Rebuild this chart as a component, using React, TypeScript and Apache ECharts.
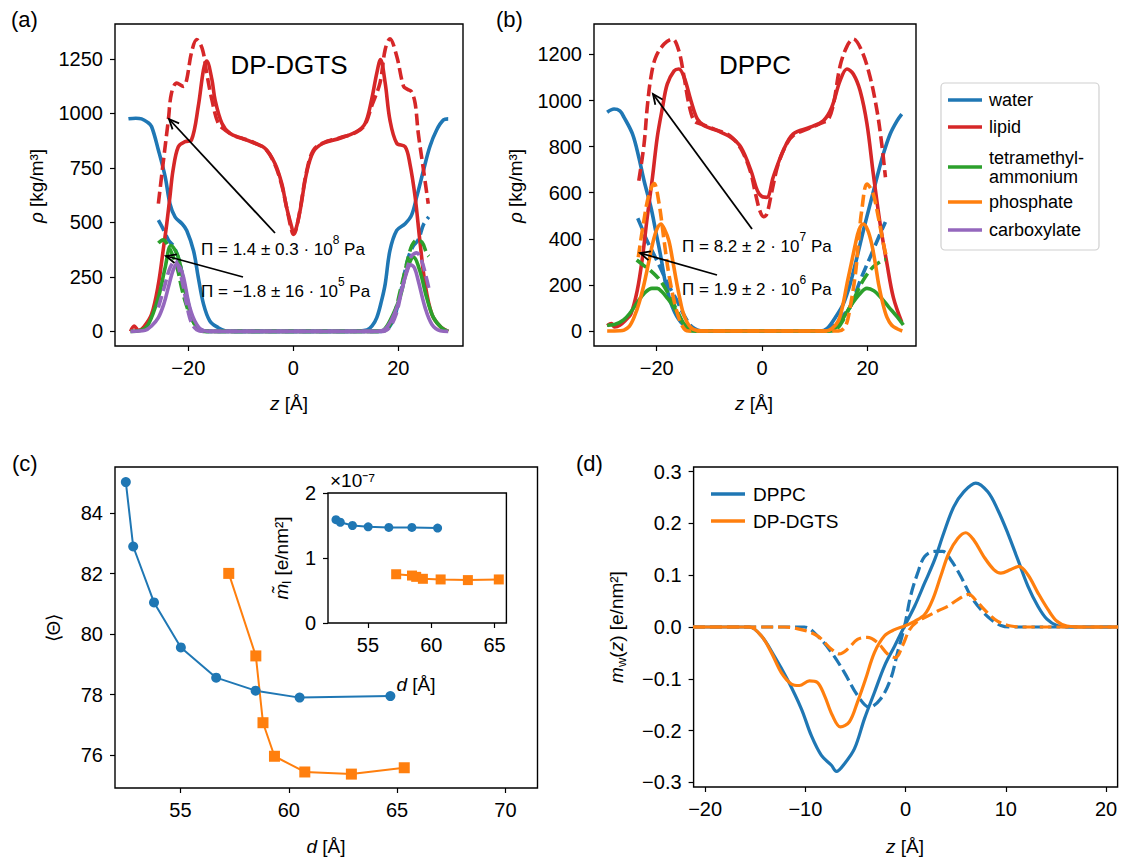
import React, { useEffect, useRef } from "react";
import * as echarts from "echarts";

const FONT = '"Liberation Sans", Arial, Helvetica, sans-serif';
const COL = { blue: "#1f77b4", orange: "#ff7f0e", green: "#2ca02c", red: "#d62728", purple: "#9467bd" };

// ---------- (a) DP-DGTS density profiles [z (Å), ρ (kg/m³)] ----------
const waterA: number[][] = [[-31.4,975],[-30,978],[-28.9,975],[-27.8,960],[-27,940],[-25.7,832],[-24.4,709],[-23.5,586],[-22.5,524],[-21.2,494],[-20.3,463],[-19,370],[-18.1,248],[-17.1,125],[-15.9,48],[-14.3,17],[-13,3],[-11,0],[-5,0],[0,0],[5,0],[11,0],[14,6],[15,25],[15.9,63],[16.8,140],[17.5,217],[18.4,370],[19.7,463],[21.3,494],[22.5,532],[23.5,617],[24.8,739],[26,847],[27.3,924],[28.6,970],[29.5,975]];
const waterA_c: number[][] = [[-25.7,510],[-24.8,470],[-23.8,420],[-22.8,390],[-21.8,330],[-20.8,220],[-19.8,110],[-18.8,40],[-17.8,10],[-16.5,0],[-8,0],[0,0],[8,0],[16.5,0],[17.8,10],[18.8,40],[19.8,110],[20.8,220],[21.8,330],[22.8,390],[23.8,420],[24.8,490],[25.8,525]];
const lipidA: number[][] = [[-31,0],[-30.3,25],[-29.5,5],[-28.5,20],[-27,78],[-25.7,217],[-24.8,370],[-24.1,494],[-23.5,617],[-22.9,740],[-21.9,847],[-20.6,870],[-19.4,878],[-18.1,1032],[-17.1,1201],[-16.5,1240],[-15.5,1155],[-14.9,1062],[-13.6,955],[-12.1,909],[-9.8,886],[-7.3,863],[-5.4,840],[-3.5,770],[-2.2,678],[-1.3,571],[-0.3,478],[0,455],[0.5,470],[1.3,555],[2.5,724],[3.8,824],[5.7,863],[8.9,886],[12.1,917],[13.7,955],[14.9,1062],[15.9,1185],[16.6,1247],[17.5,1139],[18.4,970],[19.7,863],[21.3,847],[22.2,770],[23.2,617],[24.1,417],[25.1,217],[26.4,78],[27.9,25],[29.5,0]];
const lipidA_c: number[][] = [[-25.7,586],[-24.8,770],[-23.8,970],[-23.2,1093],[-22.2,1139],[-20.9,1124],[-20.3,1155],[-19.4,1278],[-18.4,1339],[-17.3,1293],[-16.5,1185],[-15.5,1062],[-14.3,955],[-13,924],[-11,895],[-9,880],[-7,860],[-5.2,835],[-3.5,765],[-2.2,670],[-1.2,560],[-0.4,470],[0,445],[0.5,465],[1.3,560],[2.5,730],[3.8,830],[5.7,865],[8.9,888],[12.1,915],[13.7,950],[14.9,1032],[16.5,1139],[17.5,1293],[18.4,1342],[19.7,1262],[21,1124],[21.8,1110],[22.5,1100],[23.2,1047],[23.8,909],[24.8,740],[25.7,586]];
const tmaA: number[][] = [[-31,0],[-29,5],[-27.6,32],[-25.7,155],[-24.4,294],[-23.3,394],[-21.9,340],[-20.6,186],[-19.4,63],[-18.1,14],[-16.5,0],[-8,0],[0,0],[8,0],[16,0],[17.2,6],[18.4,48],[20.3,155],[21.6,278],[22.9,340],[24.1,278],[25.4,155],[26.7,63],[28.2,18],[29.5,0]];
const tmaA_c: number[][] = [[-25.7,405],[-24.8,420],[-24,400],[-23,350],[-22,280],[-21.3,202],[-20.5,130],[-19.7,78],[-18.4,20],[-17,0],[-8,0],[0,0],[8,0],[17,0],[18.4,30],[19.5,100],[20.3,180],[21.2,270],[21.9,340],[22.6,395],[23.4,417],[24.5,409],[25.4,358],[25.8,345]];
const carbA: number[][] = [[-31,0],[-28.2,5],[-27,25],[-25.7,63],[-24.6,130],[-23.8,202],[-22.9,280],[-22.2,309],[-21.5,290],[-20.9,248],[-19.7,109],[-18.4,32],[-17,3],[-15.5,0],[-8,0],[0,0],[8,0],[16,0],[17.8,18],[19.7,109],[21.3,248],[22.4,305],[23.1,290],[23.8,232],[25.1,109],[26.4,32],[28,3],[29.5,0]];
const carbA_c: number[][] = [[-25.7,110],[-24.6,200],[-23.5,290],[-22.5,325],[-21.6,270],[-20.9,200],[-20.2,110],[-19.4,40],[-18.4,8],[-17,0],[-8,0],[0,0],[8,0],[17,0],[18.4,20],[19.6,80],[20.5,170],[21.5,270],[22.5,345],[23.5,360],[24.5,320],[25.3,250],[25.8,200]];

// ---------- (b) DPPC density profiles ----------
const waterB: number[][] = [[-29.4,949],[-28.1,963],[-27,955],[-26.2,927],[-24.6,855],[-23.4,754],[-22.4,652],[-21.1,537],[-20.2,435],[-19.2,320],[-18.3,204],[-17,103],[-15.4,38],[-13.5,10],[-12,0],[-6,0],[0,0],[6,0],[11,0],[12.3,10],[13.9,59],[15.4,117],[16.7,204],[18,320],[19.2,435],[20.5,551],[21.8,667],[23,768],[24.3,855],[25.6,912],[26.5,941]];
const waterB_c: number[][] = [[-23.6,489],[-22.7,440],[-21.9,395],[-20.6,335],[-19.4,279],[-17.8,200],[-16.2,134],[-15.2,85],[-14.3,48],[-13.3,18],[-12.2,4],[-11,0],[-5,0],[0,0],[5,0],[11,0],[12.5,6],[13.7,25],[15,60],[16.7,103],[18.6,218],[20.5,320],[22.1,406],[23.4,473]];
const lipidB: number[][] = [[-29.4,23],[-28.6,32],[-28,18],[-27,25],[-26,45],[-24.9,74],[-23.7,175],[-22.7,320],[-21.8,493],[-20.8,667],[-19.9,840],[-18.9,970],[-18,1071],[-16.7,1129],[-15.8,1137],[-14.8,1101],[-13.5,999],[-12.3,920],[-11,891],[-8.5,869],[-5.9,840],[-4,797],[-2.1,695],[-0.9,609],[0,583],[0.9,580],[2.1,667],[4,782],[5.9,855],[9.1,884],[11.6,912],[13.2,970],[14.8,1086],[16.1,1137],[17.3,1115],[18.6,1042],[19.9,898],[21.1,681],[22.4,464],[23.7,291],[24.9,146],[26.5,38]];
const lipidB_c: number[][] = [[-23.4,652],[-22.4,811],[-21.8,970],[-21.1,1101],[-20.2,1187],[-18.6,1245],[-17,1267],[-15.8,1216],[-14.8,1101],[-13.9,985],[-12.9,912],[-11.6,898],[-9,875],[-6,845],[-4,790],[-2.2,690],[-1.2,590],[-0.4,520],[0.3,496],[0.9,508],[1.8,600],[3,720],[4.5,805],[6,850],[9,880],[11.6,905],[12.5,915],[13.5,980],[14.8,1150],[16.1,1235],[17.3,1267],[18.9,1216],[20.5,1101],[21.8,956],[22.7,811],[23.4,667]];
const tmaB: number[][] = [[-29.4,25],[-28,28],[-26.3,48],[-25,80],[-23.8,120],[-22.3,165],[-20.9,185],[-19.9,185],[-19,170],[-17.9,140],[-16.8,105],[-15.8,65],[-14.9,33],[-13.8,10],[-12.7,0],[-6,0],[0,0],[6,0],[12.5,0],[14.2,19],[15.5,60],[16.7,105],[18.3,155],[19.9,185],[21.2,175],[22.4,149],[24,105],[25.6,62],[26.8,26]];
const tmaB_c: number[][] = [[-23.8,308],[-22.5,285],[-21.3,265],[-19.4,221],[-17.5,149],[-15.9,77],[-14.3,10],[-13,0],[-6,0],[0,0],[6,0],[13,0],[14.3,12],[15.4,48],[17.3,134],[19.2,221],[21.1,279],[23,308],[23.5,310]];
const phosB: number[][] = [[-29.4,0],[-27,1],[-26.2,4],[-25.2,20],[-24.3,59],[-23.3,125],[-22.4,204],[-21.6,290],[-20.8,377],[-20,440],[-19.2,464],[-18.5,440],[-17.7,392],[-17,310],[-16.4,233],[-15.7,150],[-15.1,88],[-14.3,40],[-13.5,15],[-12.5,3],[-11,0],[-5,0],[0,0],[5,0],[12,0],[13.2,10],[14.5,45],[15.3,110],[16.1,204],[16.9,290],[17.7,377],[18.4,440],[19.2,464],[20,440],[20.8,377],[21.5,290],[22.1,204],[22.9,120],[23.7,59],[24.6,25],[25.6,10],[26.6,0]];
const phosB_c: number[][] = [[-23.5,320],[-22.5,470],[-21.5,590],[-20.5,640],[-19.6,560],[-18.6,392],[-17.7,247],[-16.4,103],[-15.1,20],[-14,0],[-6,0],[0,0],[6,0],[14.5,0],[15.8,20],[16.7,103],[17.7,247],[18.3,392],[18.9,522],[19.9,638],[21,600],[22,500],[23,380],[23.5,330]];

// ---------- (c) mean angle vs. repeat distance ----------
const cD_dppc = [52.48, 52.82, 53.78, 55.02, 56.65, 58.47, 60.5, 64.69];
const cTheta_dppc = [85.03, 82.9, 81.05, 79.56, 78.56, 78.13, 77.9, 77.95];
const cD_dgts = [57.23, 58.48, 58.81, 59.34, 60.74, 62.89, 65.33];
const cTheta_dgts = [82.01, 79.28, 77.07, 75.96, 75.44, 75.37, 75.58];
// inset: m̃_l (×10⁻⁷ e/nm²)
const inset_dppc = [1.59, 1.55, 1.5, 1.48, 1.47, 1.47, 1.46];
const inset_dgts = [0.75, 0.73, 0.71, 0.68, 0.67, 0.66, 0.67];

// ---------- (d) water polarization m_w(z) [z (Å), e/nm²] ----------
const mwDPPC: number[][] = [[-21.2,0],[-18,0],[-15.6,0],[-14.4,-0.017],[-13.1,-0.056],[-11.8,-0.101],[-10.4,-0.158],[-9.4,-0.21],[-8.4,-0.248],[-7.4,-0.267],[-6.9,-0.279],[-6.1,-0.264],[-5.1,-0.235],[-4.1,-0.177],[-3.1,-0.126],[-2.1,-0.075],[-1.1,-0.037],[-0.1,0.002],[0.9,0.04],[1.9,0.085],[2.9,0.13],[3.8,0.181],[4.8,0.232],[5.8,0.261],[7,0.278],[8.2,0.261],[9.2,0.226],[10.2,0.181],[11.2,0.13],[12.2,0.079],[13.2,0.04],[14.1,0.015],[15.1,0.003],[16.5,0],[19,0],[21.2,0]];
const mwDPPC_c: number[][] = [[-21.2,0],[-15,0],[-10.1,0],[-8.8,-0.017],[-7.4,-0.049],[-6.1,-0.088],[-4.8,-0.132],[-3.6,-0.155],[-2.5,-0.139],[-1.5,-0.101],[-0.8,-0.049],[-0.1,0.002],[0.5,0.06],[1.2,0.104],[1.9,0.136],[2.9,0.146],[3.7,0.146],[4.5,0.13],[5.5,0.098],[6.5,0.06],[7.5,0.034],[8.5,0.015],[9.5,0.003],[10.5,0],[15,0],[21.2,0]];
const mwDGTS: number[][] = [[-21.2,0],[-18,0],[-15.6,0],[-14.4,-0.017],[-13.4,-0.049],[-12.4,-0.088],[-11.4,-0.11],[-10.6,-0.113],[-9.6,-0.104],[-8.8,-0.107],[-8.1,-0.132],[-7.3,-0.171],[-6.5,-0.193],[-5.6,-0.183],[-4.8,-0.145],[-4,-0.101],[-3.1,-0.049],[-2.1,-0.017],[-1.1,-0.005],[-0.1,0.002],[0.9,0.011],[1.9,0.024],[2.7,0.053],[3.5,0.098],[4.3,0.142],[5.2,0.171],[6,0.182],[6.8,0.168],[7.8,0.136],[8.8,0.111],[9.5,0.104],[10.5,0.111],[11.3,0.117],[12.2,0.101],[13.2,0.066],[14.2,0.034],[15.1,0.011],[16.1,0.002],[18,0],[21.2,0]];
const mwDGTS_c: number[][] = [[-21.2,0],[-15,0],[-12.1,0],[-10.4,-0.005],[-8.8,-0.017],[-7.4,-0.043],[-6.6,-0.052],[-5.8,-0.043],[-4.8,-0.024],[-3.8,-0.02],[-2.8,-0.03],[-1.8,-0.052],[-1,-0.059],[-0.3,-0.036],[0.4,-0.005],[1.2,0.011],[2.2,0.021],[3.2,0.031],[4.2,0.04],[5.2,0.053],[6.3,0.063],[7.2,0.047],[8.2,0.027],[9.2,0.011],[10.5,0.002],[12,0],[16,0],[21.2,0]];

// tick values
const ticksAx = [-20, 0, 20];
const ticksAy = [0, 250, 500, 750, 1000, 1250];
const ticksBy = [0, 200, 400, 600, 800, 1000, 1200];
const ticksCx = [55, 60, 65, 70];
const ticksCy = [76, 78, 80, 82, 84];
const ticksInsetX = [55, 60, 65];
const ticksInsetY = [0, 1, 2];
const ticksDx = [-20, -10, 0, 10, 20];
const ticksDy = [-0.3, -0.2, -0.1, 0, 0.1, 0.2, 0.3];

const legendNames = ["water", "lipid", "tetramethyl-\nammonium", "phosphate", "carboxylate"];
const legendColors = [COL.blue, COL.red, COL.green, COL.orange, COL.purple];

const minusFmt = (v: number) => String(v).replace("-", "\u2212");
const dFmt = (v: number) => v.toFixed(1).replace("-", "\u2212");

function grid(left: number, top: number, width: number, height: number, bg = "transparent") {
  return { left, top, width, height, show: true, borderColor: "#000", borderWidth: 1.4, backgroundColor: bg, containLabel: false, outerBoundsMode: "none" };
}

function axis(gridIndex: number, min: number, max: number, ticks: number[], fmt: (v: number) => string) {
  return {
    type: "value", gridIndex, min, max, scale: true,
    axisLine: { show: false, onZero: false },
    splitLine: { show: false },
    axisTick: { show: true, inside: false, length: 5, lineStyle: { color: "#000", width: 1.2 }, customValues: ticks },
    axisLabel: { show: true, customValues: ticks, formatter: fmt, color: "#000", fontSize: 20, fontFamily: FONT, margin: 12 },
  };
}

function curve(data: number[][], color: string, dashed: boolean, idx: number, width = 3.6) {
  return {
    type: "line", xAxisIndex: idx, yAxisIndex: idx, data, symbol: "none", showSymbol: false,
    smooth: 0.35, silent: true, clip: true,
    lineStyle: { color, width, type: dashed ? [12, 5] : "solid", cap: "butt", join: "round" },
  };
}

function markers(xs: number[], ys: number[], color: string, symbol: string, size: number, idx: number) {
  return {
    type: "line", xAxisIndex: idx, yAxisIndex: idx, data: xs.slice(0, ys.length).map((x, i) => [x, ys[i]]),
    symbol, symbolSize: size, showSymbol: true, silent: true,
    itemStyle: { color, borderWidth: 0 }, lineStyle: { color, width: 2 },
  };
}

const RICH = {
  i: { fontStyle: "italic", fontSize: 19, fontFamily: FONT, color: "#000" },
  n: { fontSize: 19, fontFamily: FONT, color: "#000" },
  s: { fontSize: 13, fontFamily: FONT, color: "#000", verticalAlign: "bottom", lineHeight: 14 },
  a: { fontSize: 17, fontFamily: FONT, color: "#000", lineHeight: 24, verticalAlign: "bottom" },
  p: { fontSize: 12, fontFamily: FONT, color: "#000", lineHeight: 12, verticalAlign: "top" },
};

function txt(x: number, y: number, text: string, size = 19, align = "left", rot = 0, rich = false) {
  const style: any = {
    text, fill: "#000", fontSize: size, fontFamily: FONT,
    align, textAlign: align, verticalAlign: "middle", textVerticalAlign: "middle",
  };
  if (rich) { style.rich = RICH; style.lineHeight = 24; }
  return { type: "text", x, y, rotation: rot, z: 100, style };
}

// annotation with superscript exponent
function pressure(x: number, y: number, mant: string, exp: string) {
  return txt(x, y, `{a|${mant} \u00B7 10}{p|${exp}}{a| Pa}`, 17, "left", 0, true);
}

function arrow(x1: number, y1: number, x2: number, y2: number) {
  const a = Math.atan2(y2 - y1, x2 - x1);
  const L = 11, w = 0.42;
  const p1 = [x2 - L * Math.cos(a - w), y2 - L * Math.sin(a - w)];
  const p2 = [x2 - L * Math.cos(a + w), y2 - L * Math.sin(a + w)];
  return [
    { type: "line", z: 100, shape: { x1, y1, x2, y2 }, style: { stroke: "#000", lineWidth: 1.8 } },
    { type: "polyline", z: 100, shape: { points: [p1, [x2, y2], p2] }, style: { stroke: "#000", lineWidth: 1.8, fill: null } },
  ];
}

function buildGraphic() {
  const g: any[] = [];
  g.push(txt(11, 19, "(a)", 22));
  g.push(txt(496, 19, "(b)", 22));
  g.push(txt(12, 463, "(c)", 22));
  g.push(txt(576, 463, "(d)", 22));
  g.push(txt(289, 65, "DP-DGTS", 26, "center"));
  g.push(txt(755, 65, "DPPC", 26, "center"));
  // annotations
  g.push(pressure(201, 246, "\u03A0 = 1.4 \u00B1 0.3", "8"));
  g.push(pressure(201, 288, "\u03A0 = \u22121.8 \u00B1 16", "5"));
  g.push(pressure(682, 243, "\u03A0 = 8.2 \u00B1 2", "7"));
  g.push(pressure(682, 286, "\u03A0 = 1.9 \u00B1 2", "6"));
  g.push(...arrow(275, 233, 169, 119));
  g.push(...arrow(243, 277, 166, 256));
  g.push(...arrow(752, 229, 653, 94));
  g.push(...arrow(717, 275, 640, 253));
  // axis titles
  g.push(txt(36, 186, "{i|\u03C1} [kg/m\u00B3]", 19, "center", Math.PI / 2, true));
  g.push(txt(289, 403, "{i|z} [\u00C5]", 19, "center", 0, true));
  g.push(txt(515, 186, "{i|\u03C1} [kg/m\u00B3]", 19, "center", Math.PI / 2, true));
  g.push(txt(754, 403, "{i|z} [\u00C5]", 19, "center", 0, true));
  g.push(txt(53, 628, "\u27E8\u0398\u27E9", 19, "center", Math.PI / 2));
  g.push(txt(326, 846, "{i|d} [\u00C5]", 19, "center", 0, true));
  g.push(txt(281, 558, "{i|m\u0303}{s|l} [e/nm\u00B2]", 19, "center", Math.PI / 2, true));
  g.push(txt(416, 684, "{i|d} [\u00C5]", 19, "center", 0, true));
  g.push(txt(330, 480, "\u00D710\u207B\u2077", 19, "left"));
  g.push(txt(616, 627, "{i|m}{s|w}({i|z}) [e/nm\u00B2]", 19, "center", Math.PI / 2, true));
  g.push(txt(905, 846, "{i|z} [\u00C5]", 19, "center", 0, true));
  // legend for (a)/(b)
  g.push({ type: "rect", z: 95, shape: { x: 941, y: 83, width: 158, height: 167, r: 4 }, style: { fill: "#fff", stroke: "#d0d0d0", lineWidth: 1.2 } });
  const rowsY = [100, 127, 167, 202, 230];
  legendNames.forEach((name, i) => {
    const y = rowsY[i];
    g.push({ type: "line", z: 100, shape: { x1: 948, y1: y, x2: 982, y2: y }, style: { stroke: legendColors[i], lineWidth: 3.6 } });
    const s: any = txt(989, y, name, 18);
    s.style.lineHeight = 19;
    g.push(s);
  });
  // legend for (d)
  g.push({ type: "line", z: 100, shape: { x1: 711, y1: 494, x2: 745, y2: 494 }, style: { stroke: COL.blue, lineWidth: 3.6 } });
  g.push(txt(753, 494, "DPPC", 19));
  g.push({ type: "line", z: 100, shape: { x1: 711, y1: 521, x2: 745, y2: 521 }, style: { stroke: COL.orange, lineWidth: 3.6 } });
  g.push(txt(753, 521, "DP-DGTS", 19));
  return g;
}

function buildOption() {
  return {
    animation: false,
    backgroundColor: "#fff",
    grid: [
      grid(115, 24, 348, 322),
      grid(594, 24, 322, 322),
      grid(115, 467, 422.5, 321),
      grid(328, 493, 178.4, 130, "#fff"),
      grid(693.6, 467, 424, 320),
    ],
    xAxis: [
      axis(0, -33.96, 32.32, ticksAx, minusFmt),
      axis(1, -31.9, 29.2, ticksAx, minusFmt),
      axis(2, 51.98, 71.48, ticksCx, minusFmt),
      axis(3, 51.85, 65.93, ticksInsetX, minusFmt),
      axis(4, -21.15, 21.15, ticksDx, minusFmt),
    ],
    yAxis: [
      axis(0, -67, 1410, ticksAy, minusFmt),
      axis(1, -65, 1332, ticksBy, minusFmt),
      axis(2, 74.91, 85.53, ticksCy, minusFmt),
      axis(3, 0, 2, ticksInsetY, minusFmt),
      axis(4, -0.309, 0.309, ticksDy, dFmt),
    ],
    series: [
      curve(waterA, COL.blue, false, 0), curve(waterA_c, COL.blue, true, 0),
      curve(lipidA, COL.red, false, 0), curve(lipidA_c, COL.red, true, 0),
      curve(tmaA, COL.green, false, 0), curve(tmaA_c, COL.green, true, 0),
      curve(carbA, COL.purple, false, 0), curve(carbA_c, COL.purple, true, 0),

      curve(waterB, COL.blue, false, 1), curve(waterB_c, COL.blue, true, 1),
      curve(lipidB, COL.red, false, 1), curve(lipidB_c, COL.red, true, 1),
      curve(tmaB, COL.green, false, 1), curve(tmaB_c, COL.green, true, 1),
      curve(phosB, COL.orange, false, 1), curve(phosB_c, COL.orange, true, 1),

      markers(cD_dppc, cTheta_dppc, COL.blue, "circle", 10, 2),
      markers(cD_dgts, cTheta_dgts, COL.orange, "rect", 11, 2),
      markers(cD_dppc, inset_dppc, COL.blue, "circle", 9, 3),
      markers(cD_dgts, inset_dgts, COL.orange, "rect", 10, 3),

      curve(mwDPPC, COL.blue, false, 4, 3.2), curve(mwDPPC_c, COL.blue, true, 4, 3.2),
      curve(mwDGTS, COL.orange, false, 4, 3.2), curve(mwDGTS_c, COL.orange, true, 4, 3.2),
    ],
    graphic: { elements: buildGraphic() },
  };
}

export default function App() {
  const ref = useRef<HTMLDivElement>(null);
  useEffect(() => {
    if (!ref.current) return;
    const chart = echarts.init(ref.current, null, { renderer: "svg" });
    chart.setOption(buildOption() as any);
    return () => chart.dispose();
  }, []);
  return <div ref={ref} style={{ position: "fixed", left: 0, top: 0, width: 1123, height: 864, background: "#fff" }} />;
}
